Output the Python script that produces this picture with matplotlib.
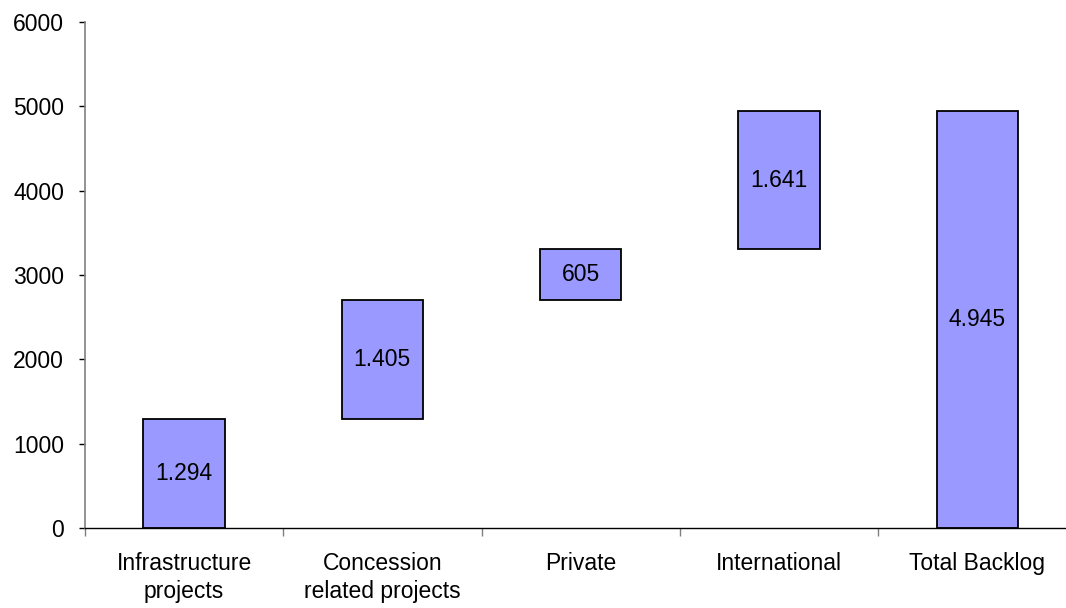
import numpy as np
import matplotlib.pyplot as plt

plt.rcParams['font.family'] = ['Liberation Sans', 'DejaVu Sans']

categories = ['Infrastructure\nprojects', 'Concession\nrelated projects',
              'Private', 'International', 'Total Backlog']
steps = [1294, 1405, 605, 1641]
total = 4945

values = steps + [total]
bottoms = list(np.concatenate([[0], np.cumsum(steps)[:-1]])) + [0]


def fmt(v):
    # thousands separated with a dot
    return '{:,}'.format(v).replace(',', '.')


fig = plt.figure(figsize=(10.66, 6.08), dpi=100)
ax = fig.add_axes([0.0797, 0.1316, 0.9203, 0.8322])

x = np.arange(len(categories))
ax.bar(x, values, bottom=bottoms, width=0.41, color='#9999FF',
       edgecolor='black', linewidth=1.3)

for xi, v, b in zip(x, values, bottoms):
    ax.text(xi, b + v / 2, fmt(v), ha='center', va='center', fontsize=16.5)

ax.set_ylim(0, 6000)
ax.set_xlim(-0.5, 4.448)
ax.set_yticks(range(0, 6001, 1000))

ax.set_xticks(x)
ax.set_xticklabels(categories, linespacing=1.3)
ax.set_xticks(np.arange(-0.5, 4.5, 1), minor=True)
ax.tick_params(axis='x', which='major', length=0, pad=17, labelsize=16.5)
ax.tick_params(axis='x', which='minor', length=6, width=1, color='#808080')
ax.tick_params(axis='y', length=4, width=1, pad=11, labelsize=16.5,
               color='black')

for side in ['top', 'right']:
    ax.spines[side].set_visible(False)
ax.spines['left'].set_color('#808080')
ax.spines['left'].set_linewidth(1.2)
ax.spines['bottom'].set_color('black')
ax.spines['bottom'].set_linewidth(1)

fig.savefig('out.png', dpi=100)
